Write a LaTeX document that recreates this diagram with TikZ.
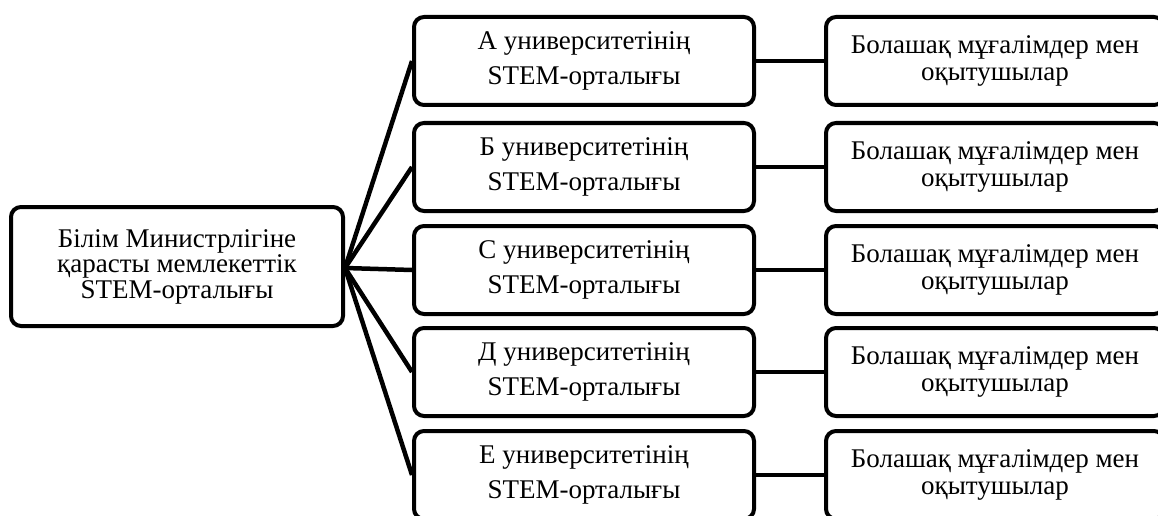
\documentclass[tikz,border=0pt]{standalone}
\usepackage{fontspec}
\setmainfont{Liberation Serif}
\begin{document}
\begin{tikzpicture}[x=1pt,y=-1pt,
  box/.style={draw, line width=4pt, rounded corners=10pt, align=center, inner sep=0pt, minimum height=88pt},
  midbox/.style={box, minimum width=340pt, font=\fontsize{27}{35}\selectfont},
  rgtbox/.style={box, minimum width=338pt, font=\fontsize{27}{27}\selectfont},
  srcbox/.style={box, minimum width=332pt, minimum height=119pt, font=\fontsize{27}{25.5}\selectfont},
  link/.style={line width=4.5pt}]
\useasboundingbox (0,0) rectangle (1158,516);
\node[srcbox] (src) at (177,266.5) {Білім Министрлігіне\\қарасты мемлекеттік\\STEM-орталығы};
\node[midbox] (a) at (584,61) {А университетінің\\STEM-орталығы};
\node[midbox] (b) at (584,167) {Б университетінің\\STEM-орталығы};
\node[midbox] (c) at (584,270) {С университетінің\\STEM-орталығы};
\node[midbox] (d) at (584,372) {Д университетінің\\STEM-орталығы};
\node[midbox] (e) at (584,475) {Е университетінің\\STEM-орталығы};
\node[rgtbox] (ra) at (995,61) {Болашақ мұғалімдер мен\\оқытушылар};
\node[rgtbox] (rb) at (995,167) {Болашақ мұғалімдер мен\\оқытушылар};
\node[rgtbox] (rc) at (995,270) {Болашақ мұғалімдер мен\\оқытушылар};
\node[rgtbox] (rd) at (995,372) {Болашақ мұғалімдер мен\\оқытушылар};
\node[rgtbox] (re) at (995,475) {Болашақ мұғалімдер мен\\оқытушылар};
\foreach \m in {a,b,c,d,e}{
  \draw[link] ([yshift=-1.5pt]src.east) -- (\m.west);
  \draw[link] (\m.east) -- (r\m.west);
}
\end{tikzpicture}
\end{document}
